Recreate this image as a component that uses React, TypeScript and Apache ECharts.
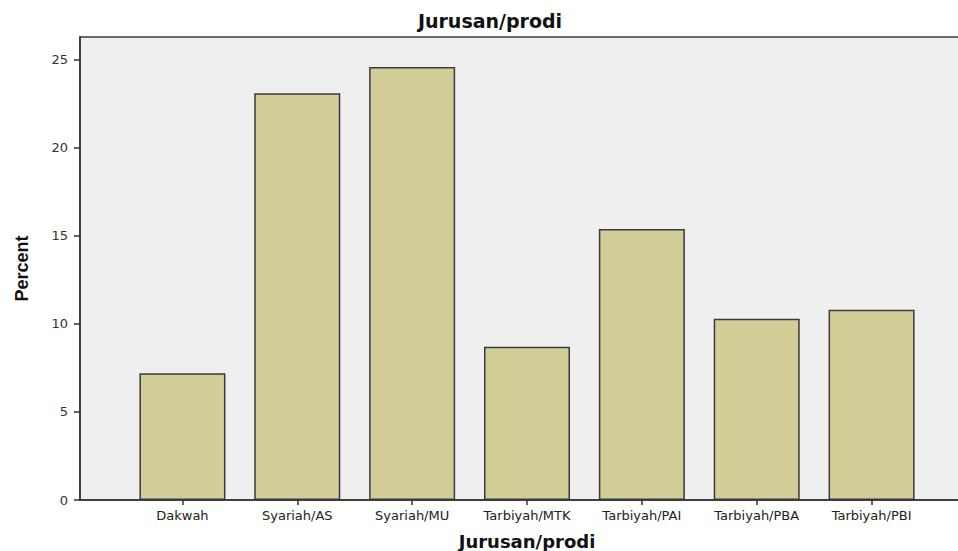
import React, { useEffect, useRef } from "react";
import * as echarts from "echarts";

const categories = ["Dakwah", "Syariah/AS", "Syariah/MU", "Tarbiyah/MTK", "Tarbiyah/PAI", "Tarbiyah/PBA", "Tarbiyah/PBI"];
const percentValues = [7.2, 23.1, 24.6, 8.7, 15.4, 10.3, 10.8];
const yTicks = [0, 5, 10, 15, 20, 25];
const titleText = "Jurusan/prodi";
const xAxisTitle = "Jurusan/prodi";
const yAxisTitle = "Percent";

const Y_MAX = 26.3;
const FONT = "'DejaVu Sans', 'Liberation Sans', Arial, sans-serif";

export default function App() {
  const ref = useRef<HTMLDivElement>(null);
  useEffect(() => {
    if (!ref.current) return;
    const chart = echarts.init(ref.current, undefined, { renderer: "svg" });
    chart.setOption({
      animation: false,
      backgroundColor: "#ffffff",
      title: {
        text: titleText,
        left: 485,
        top: 6,
        textAlign: "center",
        textStyle: { fontFamily: FONT, fontWeight: "bold", fontSize: 19, color: "#111" },
      },
      grid: [
        {
          left: 80, top: 37, right: -3, bottom: 51, outerBoundsMode: "none",
          show: true, backgroundColor: "#efefef", borderColor: "#3a3a3a", borderWidth: 1.5,
        },
        { left: 125, top: 37, right: 29, bottom: 51, outerBoundsMode: "none" },
      ],
      xAxis: [
        {
          gridIndex: 0, type: "value", min: 0, max: 1,
          axisLine: { show: true, onZero: false, lineStyle: { color: "#333", width: 1.5 } },
          axisTick: { show: false }, axisLabel: { show: false }, splitLine: { show: false },
        },
        {
          gridIndex: 1, type: "category", data: categories, boundaryGap: true,
          axisLine: { show: false },
          axisTick: { show: true, alignWithLabel: true, length: 5, lineStyle: { color: "#333", width: 1.5 } },
          axisLabel: { fontFamily: FONT, fontSize: 13, color: "#222", margin: 9, interval: 0 },
          name: xAxisTitle, nameLocation: "middle", nameGap: 32,
          nameTextStyle: { fontFamily: FONT, fontWeight: "bold", fontSize: 18, color: "#111" },
        },
      ],
      yAxis: [
        {
          gridIndex: 0, type: "value", min: 0, max: Y_MAX,
          axisLine: { show: true, lineStyle: { color: "#333", width: 1.5 } },
          axisTick: { show: true, length: 6, customValues: yTicks, lineStyle: { color: "#333", width: 1.5 } },
          axisLabel: { fontFamily: FONT, fontSize: 13, color: "#333", margin: 12, customValues: yTicks },
          splitLine: { show: false },
          name: yAxisTitle, nameLocation: "middle", nameGap: 49,
          nameTextStyle: { fontFamily: "'Liberation Sans Narrow', 'Liberation Sans', sans-serif", fontWeight: "bold", fontSize: 18, color: "#111" },
        },
        { gridIndex: 1, type: "value", min: 0, max: Y_MAX, show: false },
      ],
      series: [
        {
          type: "bar", xAxisIndex: 1, yAxisIndex: 1, data: percentValues, barWidth: 86,
          itemStyle: { color: "#d3ce98", borderColor: "#3a3a3a", borderWidth: 1.5 },
        },
      ],
    });
    return () => chart.dispose();
  }, []);
  return <div ref={ref} style={{ position: "fixed", left: 0, top: 0, width: 958, height: 551 }} />;
}
